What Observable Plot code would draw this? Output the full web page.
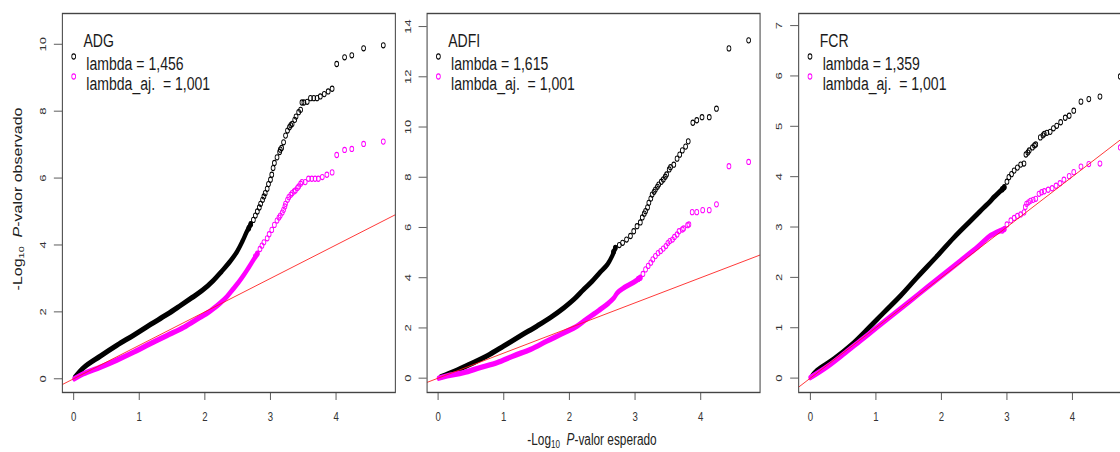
<!DOCTYPE html>
<html>
<head>
<meta charset="utf-8">
<script src="https://cdn.jsdelivr.net/npm/d3@7"></script>
<script src="https://cdn.jsdelivr.net/npm/@observablehq/plot@0.6"></script>
<style>
  html, body { margin: 0; padding: 0; background: #fff; width: 1120px; height: 452px; overflow: hidden; }
  #fig { position: relative; width: 1120px; height: 452px; overflow: hidden; font-family: "Liberation Sans", Arial, sans-serif; color: #222; }
  #fig svg text { white-space: pre; }
  .axlab { position: absolute; white-space: nowrap; font-size: 16px; color: #222; line-height: 1; }
  .axlab sub { font-size: 0.68em; vertical-align: -0.28em; line-height: 0; }
</style>
</head>
<body>
<div id="fig">
  <div class="axlab" id="ylab" style="left:18px; top:199px; transform: translate(-50%,-50%) rotate(-90deg) scaleY(0.74);">-Log<sub>10</sub>&nbsp; <i>P</i>-valor observado</div>
  <div class="axlab" id="xlab" style="left:592px; top:440px; transform: translate(-50%,-50%) scaleX(0.74);">-Log<sub>10</sub>&nbsp; <i>P</i>-valor esperado</div>
</div>
<script>
// ---------- data ----------
// [expected -log10 p, observed -log10 p]
const xTicks = [0, 1, 2, 3, 4];
const adgYTicks = [0, 2, 4, 6, 8, 10];
const adfiYTicks = [0, 2, 4, 6, 8, 10, 12, 14];
const fcrYTicks = [0, 1, 2, 3, 4, 5, 6, 7];

const panelTitles = ["ADG", "ADFI", "FCR"];
const lambdaLabels = ["lambda = 1,456", "lambda = 1,615", "lambda = 1,359"];
const lambdaAdjLabels = ["lambda_aj.  = 1,001", "lambda_aj.  = 1,001", "lambda_aj.  = 1,001"];

// ADG — dense part (overlapping circles) and sparse tail
const adgRawBand = [[0.02,0.05],[0.15,0.33],[0.41,0.68],[0.66,1.0],[0.92,1.31],[1.17,1.62],[1.42,1.92],[1.62,2.18],[1.80,2.42],[1.96,2.64],[2.13,2.94],[2.26,3.22],[2.39,3.52],[2.49,3.80],[2.57,4.10],[2.64,4.40],[2.70,4.62]];
const adgRawTail = [[2.67,4.50],[2.70,4.62],[2.74,4.75],[2.77,4.88],[2.80,5.0],[2.83,5.12],[2.85,5.23],[2.88,5.35],[2.90,5.45],[2.92,5.55],[2.95,5.68],[2.97,5.82],[3.00,5.95],[3.02,6.10],[3.04,6.30],[3.06,6.45],[3.10,6.62],[3.14,6.78],[3.15,6.85],[3.17,6.90],[3.20,7.07],[3.23,7.27],[3.26,7.42],[3.29,7.52],[3.31,7.58],[3.33,7.62],[3.37,7.74],[3.39,7.84],[3.43,7.97],[3.46,8.04],[3.48,8.26],[3.51,8.26],[3.56,8.28],[3.61,8.39],[3.66,8.39],[3.71,8.39],[3.76,8.44],[3.82,8.51],[3.88,8.59],[3.94,8.67],[4.01,9.41],[4.13,9.61],[4.24,9.67],[4.42,9.88],[4.72,9.97]];
const adgAdjBand = [[0.01,0.0],[0.15,0.15],[0.41,0.35],[0.66,0.56],[0.92,0.80],[1.17,1.05],[1.42,1.29],[1.68,1.54],[1.93,1.84],[2.05,1.98],[2.12,2.08],[2.22,2.24],[2.33,2.44],[2.43,2.68],[2.52,2.90],[2.60,3.12],[2.66,3.30],[2.73,3.52],[2.80,3.74]];
const adgAdjTail = [[2.77,3.66],[2.80,3.74],[2.84,3.88],[2.87,3.98],[2.90,4.08],[2.95,4.20],[2.98,4.32],[3.02,4.45],[3.06,4.60],[3.10,4.73],[3.13,4.82],[3.15,4.88],[3.18,4.97],[3.20,5.05],[3.22,5.15],[3.23,5.23],[3.26,5.35],[3.28,5.43],[3.31,5.50],[3.33,5.55],[3.36,5.60],[3.38,5.63],[3.41,5.70],[3.43,5.75],[3.46,5.83],[3.48,5.88],[3.53,5.88],[3.58,5.98],[3.63,5.98],[3.68,5.98],[3.73,5.98],[3.79,6.03],[3.86,6.10],[3.94,6.17],[4.01,6.69],[4.13,6.84],[4.24,6.87],[4.42,7.02],[4.72,7.09]];

// ADFI
const adfiRawBand = [[0.04,0.05],[0.24,0.26],[0.49,0.56],[0.75,0.89],[1.0,1.28],[1.25,1.68],[1.51,2.08],[1.71,2.41],[1.92,2.81],[2.07,3.14],[2.22,3.54],[2.35,3.87],[2.47,4.22],[2.58,4.53],[2.65,4.86],[2.70,5.19]];
const adfiRawTail = [[2.67,5.02],[2.70,5.19],[2.76,5.30],[2.81,5.39],[2.87,5.52],[2.93,5.66],[2.98,5.85],[3.03,6.05],[3.08,6.20],[3.11,6.40],[3.14,6.55],[3.16,6.65],[3.19,6.80],[3.21,6.98],[3.24,7.15],[3.26,7.31],[3.29,7.42],[3.31,7.51],[3.34,7.62],[3.36,7.71],[3.40,7.82],[3.43,7.91],[3.46,8.02],[3.48,8.11],[3.52,8.31],[3.54,8.40],[3.59,8.50],[3.64,8.74],[3.68,8.90],[3.72,9.07],[3.77,9.22],[3.81,9.43],[3.88,10.17],[3.94,10.27],[4.02,10.39],[4.13,10.39],[4.24,10.73],[4.43,13.13],[4.73,13.45]];
const adfiAdjBand = [[0.01,0.0],[0.14,0.09],[0.39,0.22],[0.64,0.42],[0.90,0.62],[1.15,0.89],[1.41,1.15],[1.66,1.48],[1.92,1.81],[2.12,2.08],[2.25,2.33],[2.45,2.70],[2.60,3.0],[2.68,3.20],[2.73,3.40],[2.83,3.60],[2.98,3.82],[3.08,4.0]];
const adfiAdjTail = [[3.05,3.95],[3.08,4.0],[3.12,4.15],[3.16,4.33],[3.20,4.47],[3.24,4.60],[3.27,4.73],[3.31,4.86],[3.35,4.98],[3.39,5.06],[3.43,5.16],[3.47,5.26],[3.50,5.38],[3.53,5.46],[3.57,5.52],[3.60,5.62],[3.64,5.72],[3.67,5.85],[3.72,5.92],[3.74,5.96],[3.80,6.09],[3.82,6.12],[3.87,6.61],[3.94,6.61],[4.03,6.69],[4.13,6.69],[4.24,6.92],[4.43,8.44],[4.73,8.61]];

// FCR
const fcrRawBand = [[0.03,0.05],[0.10,0.15],[0.36,0.38],[0.61,0.64],[0.87,0.97],[1.12,1.30],[1.38,1.64],[1.63,2.0],[1.94,2.43],[2.19,2.79],[2.45,3.13],[2.55,3.26],[2.65,3.39],[2.73,3.49],[2.80,3.59],[2.88,3.69],[2.96,3.79]];
const fcrRawTail = [[2.93,3.75],[2.96,3.79],[3.00,3.90],[3.03,3.99],[3.07,4.05],[3.11,4.12],[3.16,4.18],[3.21,4.24],[3.26,4.26],[3.29,4.44],[3.32,4.48],[3.34,4.52],[3.39,4.58],[3.42,4.62],[3.44,4.64],[3.51,4.78],[3.55,4.82],[3.57,4.85],[3.61,4.87],[3.66,4.89],[3.71,4.96],[3.76,5.01],[3.82,5.08],[3.89,5.17],[3.95,5.21],[4.02,5.31],[4.13,5.49],[4.25,5.54],[4.42,5.59],[4.73,5.99]];
const fcrAdjBand = [[0.0,0.01],[0.26,0.23],[0.51,0.48],[0.76,0.74],[1.02,1.01],[1.27,1.27],[1.53,1.54],[1.78,1.80],[2.04,2.07],[2.29,2.33],[2.55,2.60],[2.75,2.83],[2.96,2.96]];
const fcrAdjTail = [[2.93,2.93],[2.96,2.96],[3.00,3.05],[3.06,3.13],[3.11,3.18],[3.16,3.22],[3.21,3.25],[3.26,3.29],[3.28,3.40],[3.30,3.46],[3.33,3.49],[3.36,3.52],[3.40,3.54],[3.44,3.56],[3.49,3.66],[3.53,3.69],[3.57,3.71],[3.63,3.74],[3.69,3.77],[3.75,3.82],[3.81,3.87],[3.87,3.94],[3.95,4.01],[4.02,4.09],[4.13,4.20],[4.25,4.25],[4.42,4.26],[4.73,4.58]];

// ---------- drawing ----------
const SQ = 0.74;            // horizontal squeeze of the original figure
const FW = 450;             // inner frame width (unsqueezed px)
const FONT = '"Liberation Sans", Arial, sans-serif';
const BLACK = "#000000", MAGENTA = "#ff00ff", RED = "#ff1a1a";
const intFmt = d => String(d);

function panel(o) {
  const W = o.mL + FW + 7;
  const svg = Plot.plot({
    width: W, height: 452,
    marginLeft: o.mL, marginRight: 7, marginTop: 13, marginBottom: 60,
    x: {domain: o.xDom},
    y: {domain: o.yDom},
    style: {fontFamily: FONT, fontSize: "13px", color: "#333", background: "transparent", overflow: "visible"},
    marks: [
      Plot.line(o.rawBand, {x: d => d[0], y: d => d[1], stroke: BLACK, strokeWidth: 5.5, strokeLinecap: "round", strokeLinejoin: "round", curve: "catmull-rom"}),
      Plot.dot(o.rawTail, {x: d => d[0], y: d => d[1], r: 2.6, stroke: BLACK, strokeWidth: 1.1, fill: "none"}),
      Plot.line(o.adjBand, {x: d => d[0], y: d => d[1], stroke: MAGENTA, strokeWidth: 5.5, strokeLinecap: "round", strokeLinejoin: "round", curve: "catmull-rom"}),
      Plot.dot(o.adjTail, {x: d => d[0], y: d => d[1], r: 2.6, stroke: MAGENTA, strokeWidth: 1.1, fill: "none"}),
      Plot.link([o.xDom], {x1: d => d[0], y1: d => d[0], x2: d => d[1], y2: d => d[1], stroke: RED, strokeWidth: 1}),
      Plot.frame({stroke: "#444", strokeWidth: 1.4}),
      Plot.axisX(xTicks, {tickSize: 8, tickPadding: 11, tickFormat: intFmt, label: null, stroke: "#444"}),
      Plot.axisY(o.yTicks, {tickSize: 11, tickPadding: 11, tickRotate: -90, tickFormat: intFmt, label: null, stroke: "#444"}),
      Plot.text([o.title], {frameAnchor: "top-left", dx: 28.5, dy: 20, text: d => d, fontSize: 19, textAnchor: "start", fill: "#1a1a1a"}),
      Plot.dot([o.lam], {frameAnchor: "top-left", dx: 15.3, dy: 43, r: 2.6, stroke: BLACK, strokeWidth: 1.1, fill: "none"}),
      Plot.text([o.lam], {frameAnchor: "top-left", dx: 32.4, dy: 43, text: d => d, fontSize: 19, textAnchor: "start", fill: "#1a1a1a"}),
      Plot.dot([o.lamAdj], {frameAnchor: "top-left", dx: 15.3, dy: 63, r: 2.6, stroke: MAGENTA, strokeWidth: 1.1, fill: "none"}),
      Plot.text([o.lamAdj], {frameAnchor: "top-left", dx: 32.4, dy: 63, text: d => d, fontSize: 19, textAnchor: "start", fill: "#1a1a1a"})
    ]
  });
  svg.style.position = "absolute";
  svg.style.left = o.L + "px";
  svg.style.top = "0px";
  svg.style.maxWidth = "none";
  svg.style.transformOrigin = "0 0";
  svg.style.transform = `scaleX(${SQ})`;
  document.getElementById("fig").appendChild(svg);
}

panel({L: 0, mL: 62 / SQ, xDom: [-0.172, 4.904], yDom: [-0.41, 10.92], yTicks: adgYTicks,
  title: panelTitles[0], lam: lambdaLabels[0], lamAdj: lambdaAdjLabels[0],
  rawBand: adgRawBand, rawTail: adgRawTail, adjBand: adgAdjBand, adjTail: adgAdjTail});
panel({L: 400, mL: 26.7 / SQ, xDom: [-0.168, 4.904], yDom: [-0.57, 14.52], yTicks: adfiYTicks,
  title: panelTitles[1], lam: lambdaLabels[1], lamAdj: lambdaAdjLabels[1],
  rawBand: adfiRawBand, rawTail: adfiRawTail, adjBand: adfiAdjBand, adjTail: adfiAdjTail});
panel({L: 765, mL: 33.3 / SQ, xDom: [-0.179, 4.904], yDom: [-0.286, 7.24], yTicks: fcrYTicks,
  title: panelTitles[2], lam: lambdaLabels[2], lamAdj: lambdaAdjLabels[2],
  rawBand: fcrRawBand, rawTail: fcrRawTail, adjBand: fcrAdjBand, adjTail: fcrAdjTail});
</script>
</body>
</html>
